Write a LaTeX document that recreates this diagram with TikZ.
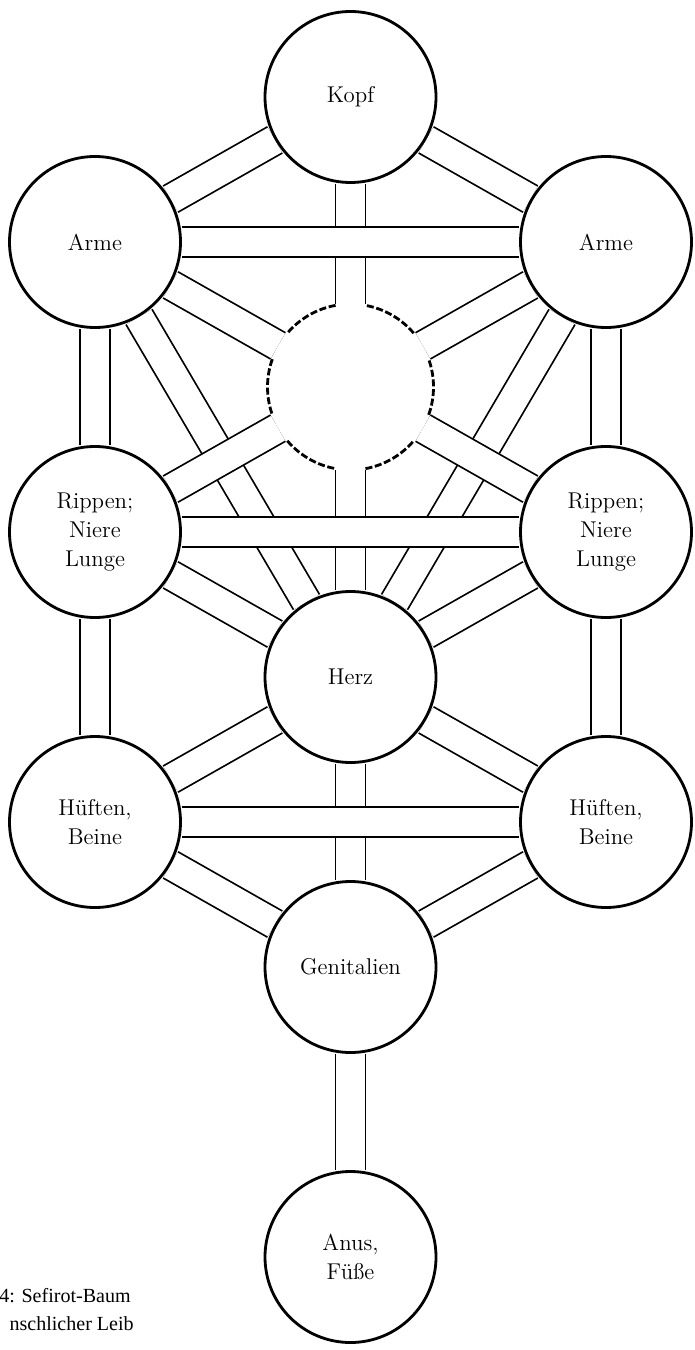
\documentclass[tikz,border=0pt]{standalone}
\usepackage{fontspec}
\newfontfamily\capfont{Liberation Serif}
\usetikzlibrary{positioning,backgrounds}
\def\sefirasize{3.42cm}
\def\daatsize{3.32cm}

\begin{document}
\begin{tikzpicture}[
  on grid,
  every node/.style={font=\fontsize{13}{16.5}\selectfont},
  sefira/.style={circle, draw, fill=white, line width=1.6pt,
                 minimum size=\sefirasize, align=center, inner sep=0pt},
  hidden/.style={circle, fill=white, minimum size=\daatsize, inner sep=0pt},
  bar/.style={line width=1pt, double=white, double distance=0.565cm},
  dasharc/.style={line width=1.6pt, dash pattern=on 4pt off 1.5pt},
  caption/.style={font=\capfont\fontsize{11.4}{14}\selectfont, anchor=base east, inner sep=0pt}
]

\useasboundingbox (0,0) rectangle (13.88,-27);

\node[sefira] (kopf) at (7.01,-1.94) {Kopf};
\node[sefira, below left=2.9cm and 5.11cm of kopf]  (armeL) {Arme};
\node[sefira, below right=2.9cm and 5.11cm of kopf] (armeR) {Arme};
\node[hidden, below=5.8cm of kopf]                  (daat)  {};
\node[sefira, below=5.8cm of armeL]   (rippenL) {Rippen;\\Niere\\Lunge};
\node[sefira, below=5.8cm of armeR]   (rippenR) {Rippen;\\Niere\\Lunge};
\node[sefira, below=5.8cm of daat]    (herz)    {Herz};
\node[sefira, below=5.8cm of rippenL] (hueftenL) {Hüften,\\Beine};
\node[sefira, below=5.8cm of rippenR] (hueftenR) {Hüften,\\Beine};
\node[sefira, below=5.8cm of herz]    (genital) {Genitalien};
\node[sefira, below=5.8cm of genital] (anus)    {Anus,\\Füße};

% dashed rim of the empty circle, open where the paths come in
\foreach \a in {90,150,...,390}
  \draw[dasharc] ([shift={(\a+10.4:1.66cm)}]daat.center)
    arc[start angle=\a+10.4, end angle=\a+49.6, radius=1.66cm];

\begin{pgfonlayer}{background}
% paths that get crossed
\draw[bar] (kopf)  -- (daat);
\draw[bar] (daat)  -- (herz);
\draw[bar] (herz)  -- (genital);
\draw[bar] (armeL) -- (herz);
\draw[bar] (armeR) -- (herz);
% the rest
\draw[bar] (kopf)  -- (armeL);
\draw[bar] (kopf)  -- (armeR);
\draw[bar] (armeL) -- (armeR);
\draw[bar] (armeL) -- (rippenL);
\draw[bar] (armeR) -- (rippenR);
\draw[bar] (armeL) -- (daat);
\draw[bar] (armeR) -- (daat);
\draw[bar] (rippenL) -- (daat);
\draw[bar] (rippenR) -- (daat);
\draw[bar] (rippenL) -- (rippenR);
\draw[bar] (rippenL) -- (herz);
\draw[bar] (rippenR) -- (herz);
\draw[bar] (rippenL) -- (hueftenL);
\draw[bar] (rippenR) -- (hueftenR);
\draw[bar] (herz) -- (hueftenL);
\draw[bar] (herz) -- (hueftenR);
\draw[bar] (hueftenL) -- (hueftenR);
\draw[bar] (hueftenL) -- (genital);
\draw[bar] (hueftenR) -- (genital);
\draw[bar] (genital) -- (anus);
\end{pgfonlayer}

\node[caption] (capA) at (2.62,-26.04) {4: Sefirot-Baum};
\node[caption] (capB) at (2.68,-26.6)  {nschlicher Leib};

\end{tikzpicture}
\end{document}
